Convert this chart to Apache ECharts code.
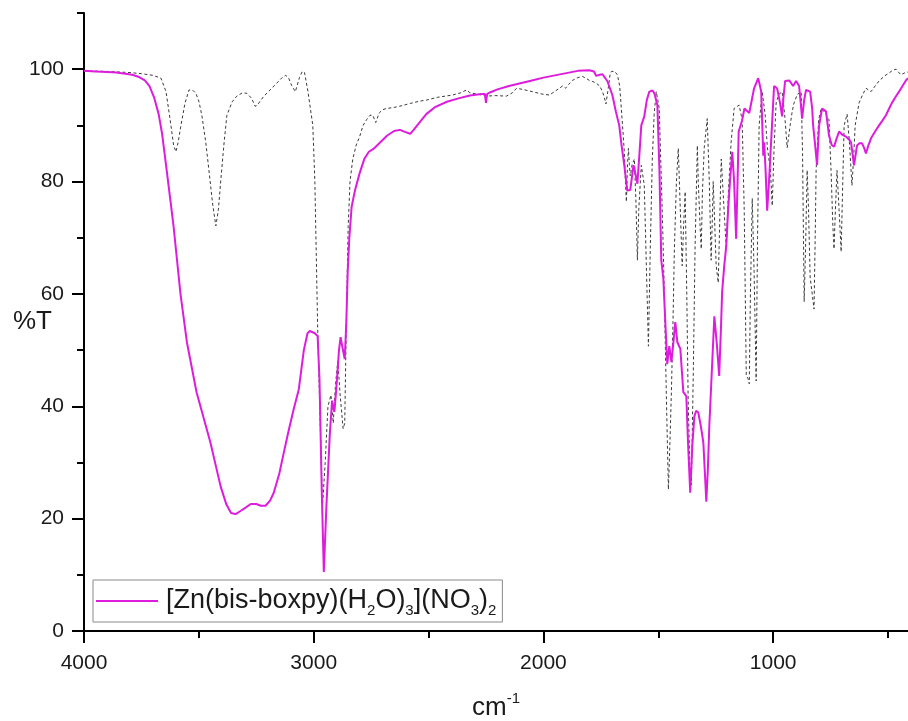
<!DOCTYPE html>
<html>
<head>
<meta charset="utf-8">
<script src="https://cdn.jsdelivr.net/npm/echarts@6/dist/echarts.min.js"></script>
<style>
  html, body { margin: 0; padding: 0; background: #ffffff; }
  #chart { width: 908px; height: 721px; }
</style>
</head>
<body>
<div id="chart"></div>
<script>
// IR spectra: wavenumber (cm-1) vs transmittance (%T)
const complexName = '[Zn(bis-boxpy)(H2O)3](NO3)2';
const ligandName = 'bis-boxpy';

// Zn complex spectrum, [wavenumber, %T]
const complexSpectrum = [
  [4000,99.7],[3950,99.6],[3900,99.5],[3860,99.4],[3820,99.2],[3790,99.0],[3760,98.6],[3735,98.0],
  [3715,97.0],[3695,95.0],[3675,92.0],[3660,88.5],[3640,82],[3610,72],[3580,60],[3552,51.4],
  [3510,42.5],[3450,33.6],[3405,25.7],[3380,22.5],[3360,21],[3340,20.8],[3317,21.4],[3295,22.0],
  [3274,22.6],[3250,22.6],[3230,22.3],[3210,22.3],[3190,23.2],[3174,24.6],[3150,28],[3130,31.8],
  [3110,35.5],[3087,39.5],[3065,43],[3043,50],[3027,53],[3017,53.4],[2995,53.0],[2983,52.5],
  [2975,45],[2965,25],[2956,10.5],[2945,22],[2930,35],[2920,41],[2910,39],[2900,44],[2890,50],
  [2883,52.3],[2875,50.5],[2865,48.4],[2858,55],[2852,64],[2845,70],[2835,75.5],[2820,78.5],
  [2800,81.5],[2780,84],[2760,85.3],[2740,85.8],[2720,86.6],[2700,87.4],[2680,88.2],[2650,89],
  [2625,89.2],[2600,88.8],[2580,88.5],[2565,89.2],[2540,90.5],[2510,92],[2470,93.3],[2420,94.2],
  [2370,94.8],[2320,95.3],[2270,95.6],[2255,95.6],[2250,94],[2245,95.6],[2230,95.9],[2200,96.4],
  [2150,97.0],[2100,97.5],[2050,98.0],[2000,98.5],[1950,98.9],[1900,99.3],[1850,99.7],[1800,99.8],
  [1780,99.6],[1770,98.8],[1755,99],[1743,99.1],[1722,97.9],[1700,95.4],[1685,92.5],[1670,90],
  [1660,86.5],[1648,82.9],[1635,78.4],[1622,78.5],[1608,82.9],[1600,81.5],[1591,79.6],[1582,85],
  [1574,90],[1561,91.6],[1550,94.5],[1539,96],[1525,96.2],[1517,95.7],[1504,93.6],[1495,82],
  [1487,66],[1478,62.7],[1470,55.5],[1461,47.5],[1452,50.7],[1443,47.9],[1435,51],[1426,55],
  [1417,51.4],[1404,50.2],[1391,42.5],[1378,41.8],[1370,33],[1361,24.6],[1352,33],[1343,38.2],
  [1335,39.2],[1326,38.9],[1315,36.5],[1304,33.6],[1297,28],[1291,23],[1284,29],[1278,36.4],
  [1265,48],[1256,56],[1245,51],[1235,45.4],[1228,53],[1222,60.4],[1213,65],[1204,68.6],[1196,75],
  [1188,80],[1178,85.3],[1170,80],[1161,69.8],[1155,80],[1150,88.9],[1135,90.9],[1125,93],[1117,93],
  [1104,92.2],[1096,92],[1083,96.6],[1065,98.4],[1052,96],[1043,84.6],[1039,87],[1033,82],
  [1026,74.8],[1018,80],[1009,87],[996,97],[983,96.6],[970,94],[961,91.6],[955,95],[948,97.9],
  [930,98],[913,97],[900,97.9],[887,97],[880,94],[874,91.2],[865,94.5],[857,96.3],[839,96],[830,93],
  [826,90],[817,86.4],[809,82.9],[800,90],[787,93],[770,92.5],[757,88.2],[745,86.5],[735,86.2],
  [725,87.5],[713,88.9],[698,88.3],[683,88],[670,87.5],[661,87],[648,82.9],[635,86.4],[624,86.8],
  [613,86.8],[604,86],[596,85],[585,86.5],[574,87.7],[555,89],[539,90],[525,90.8],[509,91.8],
  [495,93],[483,94],[468,95],[452,96],[437,97],[422,98],[413,98.4]
];

// Free ligand spectrum, [wavenumber, %T]
const ligandSpectrum = [
  [4000,99.7],[3900,99.6],[3800,99.4],[3750,99.2],[3700,98.9],[3665,98.4],[3643,96],[3625,91],
  [3610,86.5],[3600,85.3],[3590,87],[3578,90],[3560,94],[3543,96.3],[3525,96.2],[3513,95.7],
  [3500,94.3],[3487,91.8],[3470,87],[3457,82.3],[3440,76],[3426,72.1],[3415,75],[3404,80.5],
  [3390,87],[3378,91.8],[3355,94.2],[3335,95.2],[3310,95.8],[3291,95.7],[3270,94.8],[3255,93.4],
  [3245,93.6],[3230,94.5],[3217,95.2],[3190,96.3],[3161,97.5],[3140,98.4],[3122,98.9],[3110,98.5],
  [3096,97.1],[3080,96],[3074,96.2],[3062,98.5],[3050,99.6],[3040,99.4],[3025,96],[3004,90],
  [2995,80],[2983,54.3],[2975,42],[2962,22],[2950,30],[2938,40],[2925,42],[2915,37],[2905,44],
  [2895,48],[2885,42],[2872,36],[2865,37],[2858,55],[2850,72],[2842,80],[2830,84],[2815,86.5],
  [2800,88],[2785,90],[2770,91],[2755,91.8],[2743,91.8],[2730,90.5],[2715,92.2],[2700,92.8],
  [2683,93],[2650,93.2],[2626,93.4],[2580,93.9],[2540,94.3],[2509,94.5],[2460,95],[2396,95.4],
  [2360,95.8],[2335,96.3],[2320,95.8],[2309,95.7],[2280,95.5],[2248,95.2],[2210,95.3],[2161,95.2],
  [2135,95.8],[2117,96.6],[2090,96.4],[2048,96],[2010,95.6],[1974,95.4],[1945,96.2],[1917,97],
  [1904,96.6],[1890,97.3],[1874,98],[1850,98.5],[1830,98.7],[1815,98.4],[1800,98],[1785,97.8],
  [1770,97.5],[1755,97],[1743,96],[1735,95],[1728,93.8],[1720,96],[1710,99],[1704,99.6],[1690,99.6],
  [1678,99],[1668,97],[1661,93],[1654,89],[1648,85.3],[1643,80],[1639,76.4],[1634,83],[1630,85.9],
  [1626,83],[1622,81],[1614,83],[1604,84],[1597,76],[1591,66],[1585,75],[1574,82.9],[1567,81],
  [1561,79.3],[1552,65],[1543,50.7],[1535,68],[1526,84],[1518,92],[1509,96],[1502,94.5],[1496,93],
  [1488,82],[1481,72],[1474,60.4],[1465,42],[1456,25.2],[1449,34],[1443,42.5],[1436,55],[1430,68],
  [1421,80],[1413,85.9],[1405,76],[1396,65],[1390,72],[1383,78.2],[1376,60],[1370,41.2],[1362,28],
  [1356,26],[1348,45],[1340,68],[1330,86.4],[1326,80],[1318,72],[1313,68],[1308,78],[1300,86],
  [1287,91.2],[1278,80],[1270,66],[1265,73],[1261,80],[1254,72],[1248,65],[1239,62],[1232,74],
  [1226,84],[1215,76],[1204,68],[1195,78],[1183,87],[1170,93],[1148,93.6],[1135,91],[1126,75],
  [1117,45.4],[1110,45],[1104,44],[1099,60],[1091,77],[1083,64],[1074,44.5],[1068,70],[1061,90],
  [1048,96],[1035,92],[1025,86],[1012,82],[1004,75.7],[996,86],[987,94],[975,95.5],[961,96],
  [950,92],[939,86],[926,90],[917,92.5],[909,94],[895,95.5],[878,96],[872,85],[865,58.6],[859,68],
  [852,82],[846,75],[839,63],[830,60],[822,57.3],[817,70],[813,82],[802,91],[791,93],[780,92.5],
  [770,92],[757,91],[748,82],[740,72],[735,68],[729,75],[722,82],[713,75],[704,67.5],[697,80],
  [691,90],[678,92],[668,87],[657,79.3],[650,84],[643,90],[626,94],[610,95.5],[596,96.6],[585,96.3],
  [574,96],[556,97],[539,97.9],[515,98.8],[496,99.3],[480,99.8],[465,100],[455,99.5],[443,99],
  [430,99.3],[413,99.5]
];

// Axis ranges and tick positions
const xRange = [413, 4000];
const yRange = [0, 110];
const xMajorTicks = [4000, 3000, 2000, 1000];
const xMinorTicks = [3500, 2500, 1500, 500];
const yMajorTicks = [0, 20, 40, 60, 80, 100];
const yMinorTicks = [10, 30, 50, 70, 90, 110];

const FONT = '"Liberation Sans", Arial, sans-serif';
const INK = '#1a1a1a';

const chart = echarts.init(document.getElementById('chart'), null, { renderer: 'canvas' });

const axisLineStyle = { color: '#000', width: 2 };
const plainNumber = (v) => String(v);

chart.setOption({
  backgroundColor: '#ffffff',
  animation: false,
  grid: { left: 84, right: 0, top: 13, bottom: 90, containLabel: false, outerBoundsMode: 'none' },
  xAxis: [
    {
      type: 'value', inverse: true, min: xRange[0], max: xRange[1],
      position: 'bottom',
      name: 'cm{sup|-1}',
      nameLocation: 'middle', nameGap: 60, nameMoveOverlap: false,
      nameTextStyle: {
        fontFamily: FONT, fontSize: 26, color: INK, lineHeight: 34,
        rich: { sup: { fontFamily: FONT, fontSize: 15, color: INK, verticalAlign: 'top', lineHeight: 15 } }
      },
      axisLine: { show: true, lineStyle: axisLineStyle },
      axisTick: { show: true, inside: false, length: 12, lineStyle: { width: 2, color: '#000' }, customValues: xMajorTicks },
      axisLabel: { show: true, customValues: xMajorTicks, margin: 22, fontFamily: FONT, fontSize: 21, color: INK, formatter: plainNumber },
      splitLine: { show: false }
    },
    {
      type: 'value', inverse: true, min: xRange[0], max: xRange[1],
      position: 'bottom',
      axisLine: { show: false },
      axisTick: { show: true, inside: false, length: 7, lineStyle: { width: 2, color: '#000' }, customValues: xMinorTicks },
      axisLabel: { show: false },
      splitLine: { show: false }
    }
  ],
  yAxis: [
    {
      type: 'value', min: yRange[0], max: yRange[1],
      position: 'left',
      name: '%T', nameLocation: 'middle', nameRotate: 0, nameGap: 32, nameMoveOverlap: false,
      nameTextStyle: { fontFamily: FONT, fontSize: 26, color: INK, align: 'right' },
      axisLine: { show: true, lineStyle: axisLineStyle },
      axisTick: { show: true, inside: false, length: 12, lineStyle: { width: 2, color: '#000' }, customValues: yMajorTicks },
      axisLabel: { show: true, customValues: yMajorTicks, margin: 20, fontFamily: FONT, fontSize: 21, color: INK, formatter: plainNumber },
      splitLine: { show: false }
    },
    {
      type: 'value', min: yRange[0], max: yRange[1],
      position: 'left',
      axisLine: { show: false },
      axisTick: { show: true, inside: false, length: 7, lineStyle: { width: 2, color: '#000' }, customValues: yMinorTicks },
      axisLabel: { show: false },
      splitLine: { show: false }
    }
  ],
  legend: {
    data: [{ name: complexName, icon: 'rect' }],
    left: 93, top: 580,
    orient: 'vertical',
    padding: [4, 6, 4, 3],
    itemWidth: 62, itemHeight: 2, itemGap: 0,
    borderColor: '#8a8a8a', borderWidth: 1,
    backgroundColor: '#ffffff',
    formatter: () => '[Zn(bis-boxpy)(H{s|2}O){s|3}](NO{s|3}){s|2}',
    textStyle: {
      fontFamily: FONT, fontSize: 27, color: INK, lineHeight: 34, padding: [0, 0, 0, 3],
      rich: { s: { fontFamily: FONT, fontSize: 15, color: INK, verticalAlign: 'bottom', lineHeight: 15 } }
    }
  },
  series: [
    {
      name: ligandName, type: 'line', xAxisIndex: 0, yAxisIndex: 0,
      data: ligandSpectrum, showSymbol: false, symbol: 'none',
      lineStyle: { color: '#3a3a3a', width: 1, type: [3, 2.5] },
      z: 2
    },
    {
      name: complexName, type: 'line', xAxisIndex: 0, yAxisIndex: 0,
      data: complexSpectrum, showSymbol: false, symbol: 'none',
      itemStyle: { color: '#dd1cdd' },
      lineStyle: { color: '#dd1cdd', width: 2 },
      z: 3
    }
  ]
});
</script>
</body>
</html>
